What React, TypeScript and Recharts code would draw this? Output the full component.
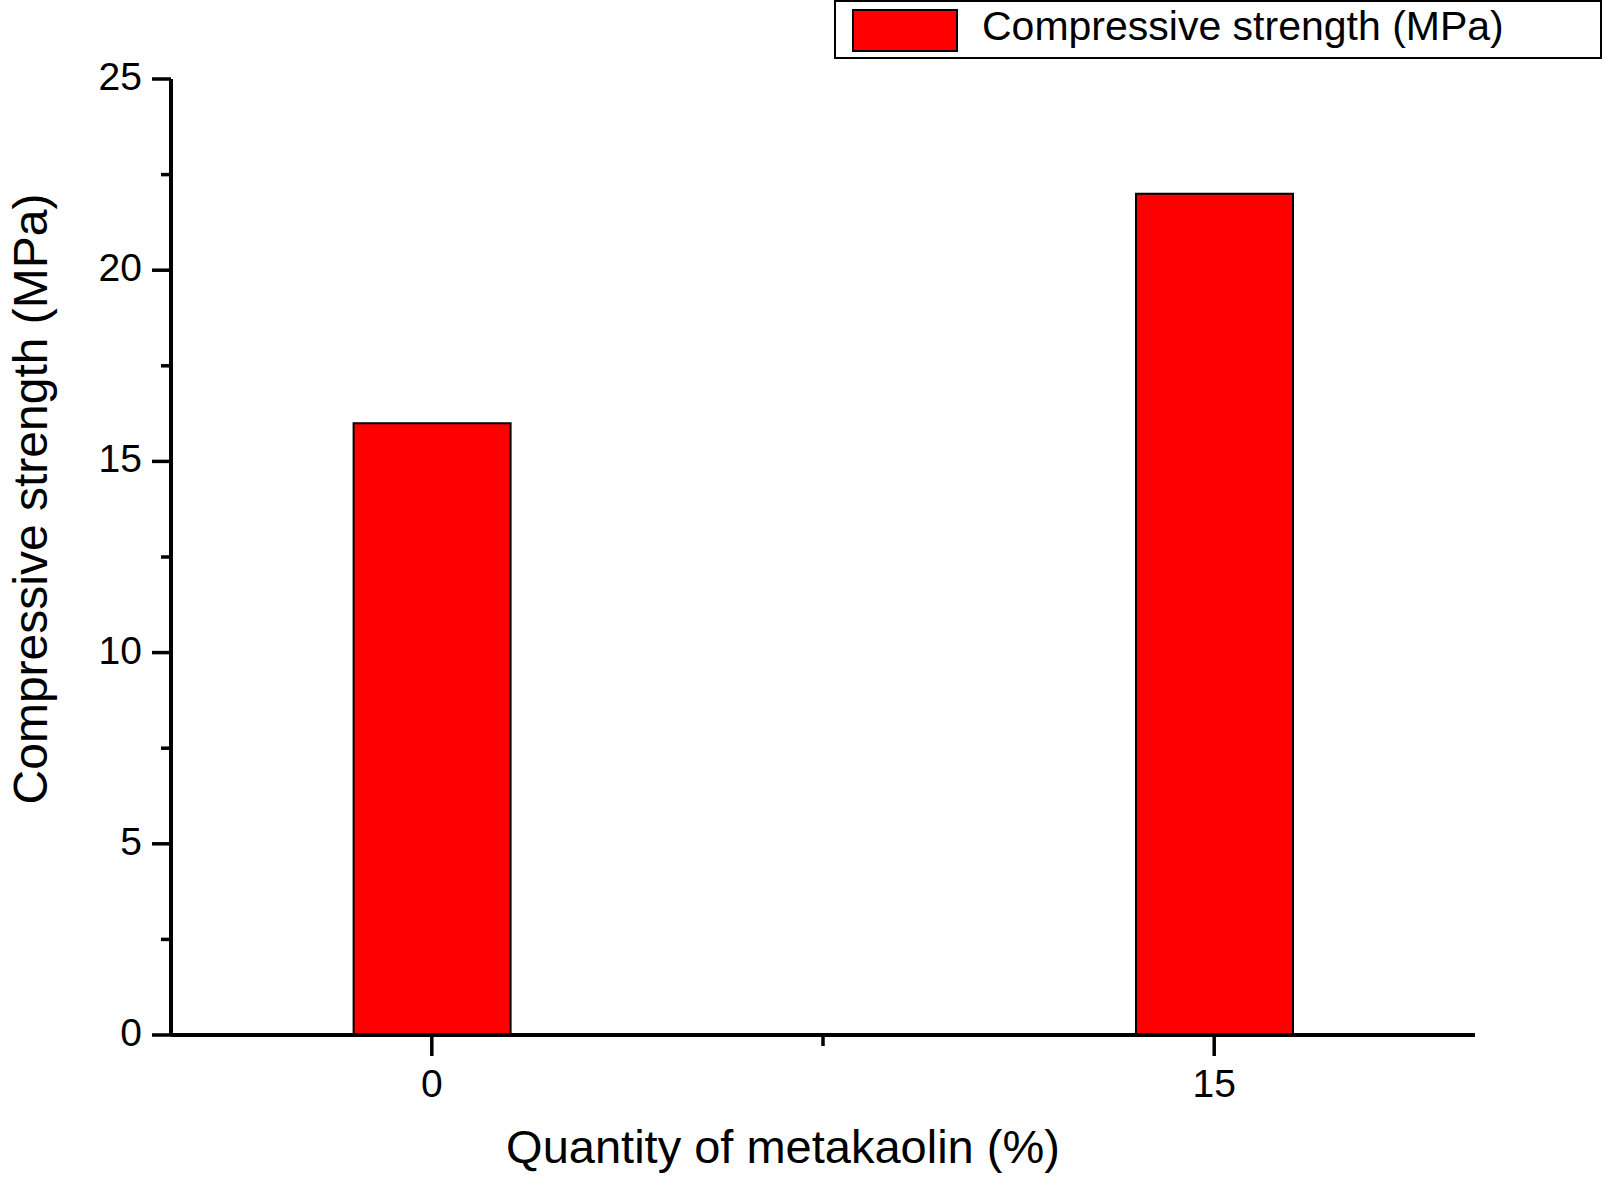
import React from 'react';
import { BarChart, Bar, XAxis, YAxis, Legend, Label } from 'recharts';

// ---- data ----
const metakaolinPct = [0, 15];
const compressiveStrength = [16, 22];
const seriesName = 'Compressive strength (MPa)';
const xTitle = 'Quantity of metakaolin (%)';
const yTitle = 'Compressive strength (MPa)';
const xMajorTicks = [0, 15];
const xMinorTicks = [7.5];
const yMajorTicks = [0, 5, 10, 15, 20, 25];
const yMinorTicks = [2.5, 7.5, 12.5, 17.5, 22.5];

const data = metakaolinPct.map((p, i) => ({ pct: p, strength: compressiveStrength[i] }));

const FONT = '"Liberation Sans", Arial, Helvetica, sans-serif';
const W = 1606;
const H = 1178;

const YTick = (props: any) => {
  const { x, y, payload } = props;
  const major = yMajorTicks.includes(payload.value);
  const len = major ? 19 : 10;
  return (
    <g>
      <line x1={x - len} y1={y} x2={x} y2={y} stroke="#000" strokeWidth={3.5} />
      {major && (
        <text x={x - len - 10} y={y + 11} textAnchor="end" fontSize={39} fontFamily={FONT} fill="#000">
          {payload.value}
        </text>
      )}
    </g>
  );
};

const XTick = (props: any) => {
  const { x, y, payload } = props;
  const major = xMajorTicks.includes(payload.value);
  const len = major ? 21 : 11;
  return (
    <g>
      <line x1={x} y1={y} x2={x} y2={y + len} stroke="#000" strokeWidth={3.5} />
      {major && (
        <text x={x} y={y + 62} textAnchor="middle" fontSize={39} fontFamily={FONT} fill="#000">
          {payload.value}
        </text>
      )}
    </g>
  );
};

const LegendBox = (props: any) => {
  const item = (props.payload && props.payload[0]) || { value: seriesName, color: '#ff0000' };
  return (
    <svg width={770} height={62} style={{ display: 'block' }}>
      <rect x={1} y={1} width={766} height={57} fill="#fff" stroke="#000" strokeWidth={2} />
      <rect x={19} y={10} width={104} height={41} fill="#ff0000" stroke="#000" strokeWidth={2} />
      <text x={148} y={40} fontSize={41} fontFamily={FONT} fill="#000">
        {item.value}
      </text>
    </svg>
  );
};

const XTitle = (props: any) => {
  const vb = props.viewBox || { x: 171, y: 1035, width: 1304, height: 143 };
  return (
    <text x={vb.x + vb.width / 2 - 40} y={vb.y + 128} textAnchor="middle" fontSize={47} fontFamily={FONT} fill="#000">
      {xTitle}
    </text>
  );
};

const YTitle = (props: any) => {
  const vb = props.viewBox || { x: 0, y: 79, width: 171, height: 956 };
  const cx = 47;
  const cy = vb.y + vb.height / 2 - 58;
  return (
    <text
      x={cx}
      y={cy}
      textAnchor="middle"
      fontSize={48}
      fontFamily={FONT}
      fill="#000"
      transform={`rotate(-90, ${cx}, ${cy})`}
    >
      {yTitle}
    </text>
  );
};

export default function App() {
  return (
    <div style={{ position: 'absolute', left: 0, top: 0, width: W, height: H, background: '#fff' }}>
      <BarChart
        width={W}
        height={H}
        data={data}
        margin={{ top: 79, right: 131, bottom: 0, left: 0 }}
        style={{ fontFamily: FONT }}
      >
        <XAxis
          dataKey="pct"
          type="number"
          domain={[-5, 20]}
          ticks={[...xMajorTicks, ...xMinorTicks].sort((a, b) => a - b)}
          interval={0}
          height={143}
          tickSize={0}
          tickMargin={0}
          tickLine={false}
          tick={<XTick />}
          axisLine={{ stroke: '#000', strokeWidth: 4 }}
        >
          <Label content={<XTitle />} />
        </XAxis>
        <YAxis
          type="number"
          domain={[0, 25]}
          ticks={[...yMajorTicks, ...yMinorTicks].sort((a, b) => a - b)}
          interval={0}
          width={171}
          tickSize={0}
          tickMargin={0}
          tickLine={false}
          tick={<YTick />}
          axisLine={{ stroke: '#000', strokeWidth: 4 }}
        >
          <Label content={<YTitle />} />
        </YAxis>
        <Legend
          layout="vertical"
          verticalAlign="middle"
          align="center"
          content={<LegendBox />}
          wrapperStyle={{ position: 'absolute', left: 834, top: 0, width: 770, height: 62 }}
        />
        <Bar
          dataKey="strength"
          name={seriesName}
          fill="#ff0000"
          stroke="#000"
          strokeWidth={2}
          barSize={157}
          isAnimationActive={false}
        />
      </BarChart>
    </div>
  );
}
